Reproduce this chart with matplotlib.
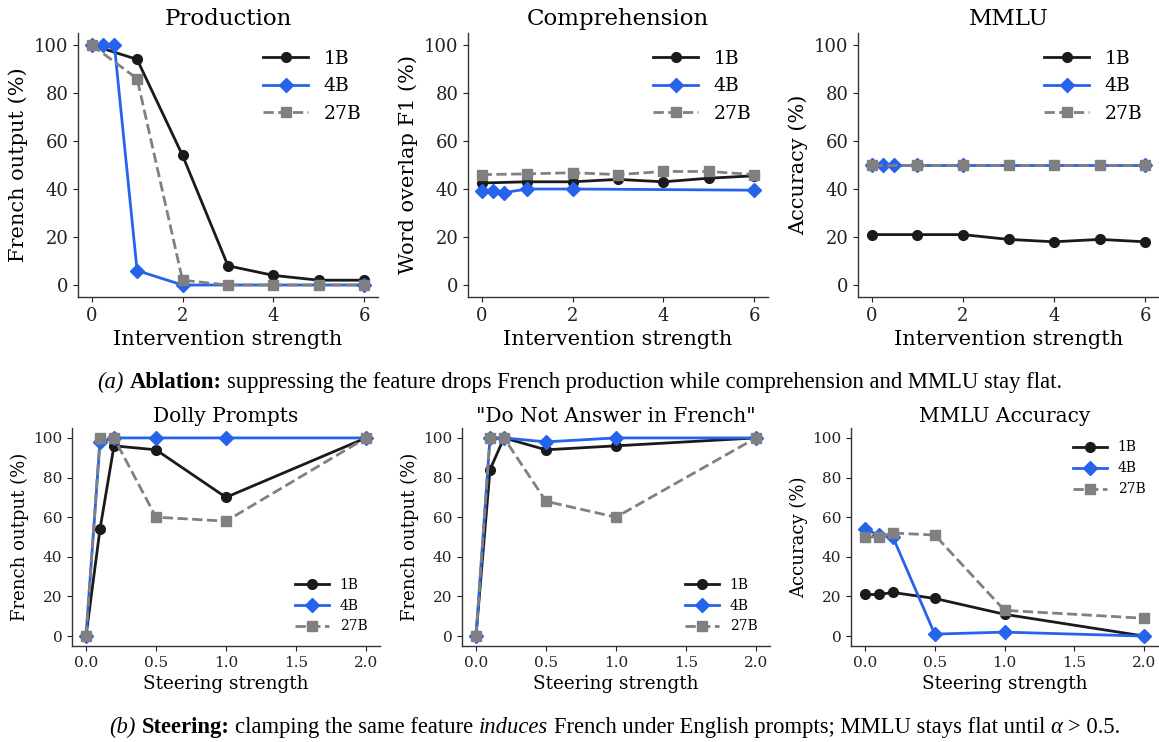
import matplotlib
matplotlib.use("Agg")
import matplotlib.pyplot as plt

plt.rcParams['font.family'] = 'DejaVu Serif'

# ---- data: ablation (top row) ----
x_1b = [0, 1, 2, 3, 4, 5, 6]
x_4b = [0, 0.25, 0.5, 1, 2, 6]
x_27b = [0, 1, 2, 3, 4, 5, 6]

prod_1b = [100, 94, 54, 8, 4, 2, 2]
prod_4b = [100, 100, 100, 6, 0, 0]
prod_27b = [100, 86, 2, 0, 0, 0, 0]

comp_1b = [42.5, 43, 43, 44, 43, 44.5, 45.5]
comp_4b = [39, 39, 38.5, 40, 40, 39.5]
comp_27b = [46, 46.3, 46.8, 46, 47.3, 47.3, 46]

mmlu_1b = [21, 21, 21, 19, 18, 19, 18]
mmlu_4b = [50, 50, 50, 50, 50, 50]
mmlu_27b = [50, 50, 50, 50, 50, 50, 50]

# ---- data: steering (bottom row) ----
steer_x = [0, 0.1, 0.2, 0.5, 1.0, 2.0]

dolly_1b = [0, 54, 96, 94, 70, 100]
dolly_4b = [0, 98, 100, 100, 100, 100]
dolly_27b = [0, 100, 100, 60, 58, 100]

dna_1b = [0, 84, 100, 94, 96, 100]
dna_4b = [0, 100, 100, 98, 100, 100]
dna_27b = [0, 100, 100, 68, 60, 100]

smmlu_1b = [21, 21, 22, 19, 11, 0]
smmlu_4b = [54, 51, 50, 1, 2, 0]
smmlu_27b = [50, 50, 52, 51, 13, 9]

C1 = '#1a1a1a'
C4 = '#2563eb'
C27 = '#808080'

W, H = 1159, 742
fig = plt.figure(figsize=(W / 100, H / 100), dpi=100)


def px_axes(l, t, r, b):
    return fig.add_axes([l / W, 1 - b / H, (r - l) / W, (b - t) / H])


def style(ax, fs_tick):
    for s in ['top', 'right']:
        ax.spines[s].set_visible(False)
    for s in ['left', 'bottom']:
        ax.spines[s].set_color('#333333')
        ax.spines[s].set_linewidth(1.0)
    ax.tick_params(labelsize=fs_tick, colors='#222222')
    ax.set_ylim(-5, 105)
    ax.set_yticks([0, 20, 40, 60, 80, 100])


top_panels = [
    ('Production', 'French output (%)', prod_1b, prod_4b, prod_27b, (78, 33, 378, 297)),
    ('Comprehension', 'Word overlap F1 (%)', comp_1b, comp_4b, comp_27b, (468, 33, 768, 297)),
    ('MMLU', 'Accuracy (%)', mmlu_1b, mmlu_4b, mmlu_27b, (858, 33, 1159, 297)),
]
for title, ylabel, y1, y4, y27, box in top_panels:
    ax = px_axes(*box)
    ax.plot(x_1b, y1, '-o', color=C1, lw=2, ms=7, label='1B')
    ax.plot(x_4b, y4, '-D', color=C4, lw=2, ms=7, label='4B')
    ax.plot(x_27b, y27, '--s', color=C27, lw=2, ms=7, label='27B')
    style(ax, 13)
    ax.set_xlim(-0.3, 6.3)
    ax.set_xticks([0, 2, 4, 6])
    ax.set_title(title, fontsize=16.5)
    ax.set_xlabel('Intervention strength', fontsize=15, labelpad=4)
    ax.set_ylabel(ylabel, fontsize=15, labelpad=4)
    ax.legend(loc='upper right', fontsize=13.5, frameon=False, handlelength=2.4)

bottom_panels = [
    ('Dolly Prompts', 'French output (%)', dolly_1b, dolly_4b, dolly_27b, (72, 428, 380, 646), 'lower right'),
    ('"Do Not Answer in French"', 'French output (%)', dna_1b, dna_4b, dna_27b, (462, 428, 770, 646), 'lower right'),
    ('MMLU Accuracy', 'Accuracy (%)', smmlu_1b, smmlu_4b, smmlu_27b, (851, 428, 1158, 646), 'upper right'),
]
for title, ylabel, y1, y4, y27, box, loc in bottom_panels:
    ax = px_axes(*box)
    ax.plot(steer_x, y1, '-o', color=C1, lw=2, ms=7, label='1B')
    ax.plot(steer_x, y4, '-D', color=C4, lw=2, ms=7, label='4B')
    ax.plot(steer_x, y27, '--s', color=C27, lw=2, ms=7, label='27B')
    style(ax, 11)
    ax.set_xlim(-0.1, 2.1)
    ax.set_xticks([0, 0.5, 1.0, 1.5, 2.0])
    ax.set_title(title, fontsize=14.5, pad=4)
    ax.set_xlabel('Steering strength', fontsize=13.3, labelpad=4)
    ax.set_ylabel(ylabel, fontsize=13, labelpad=3)
    ax.legend(loc=loc, fontsize=10, frameon=False, handlelength=2.4)


def caption(xc, yb, parts, size=16.3):
    # draw pieces of mixed style one after the other, centred on xc
    renderer = fig.canvas.get_renderer()
    gap = 0.25 * size * 100 / 72
    items = []
    for s, style_kw in parts:
        t = fig.text(0, 1 - yb / H, s, fontsize=size, family='Liberation Serif',
                     va='baseline', ha='left', **style_kw)
        items.append((t, t.get_window_extent(renderer).width))
    total = sum(w for _, w in items) + gap * (len(items) - 1)
    x = xc - total / 2
    for t, w in items:
        t.set_x(x / W)
        x += w + gap


IT = {'style': 'italic'}
BF = {'weight': 'bold'}
RM = {}
caption(580, 388, [('(a)', IT), ('Ablation:', BF),
                   ('suppressing the feature drops French production while comprehension and MMLU stay flat.', RM)])
caption(615, 733, [('(b)', IT), ('Steering:', BF), ('clamping the same feature', RM), ('induces', IT),
                   ('French under English prompts; MMLU stays flat until', RM), ('\u03b1', IT), ('> 0.5.', RM)])

fig.savefig('out.png', dpi=100)
